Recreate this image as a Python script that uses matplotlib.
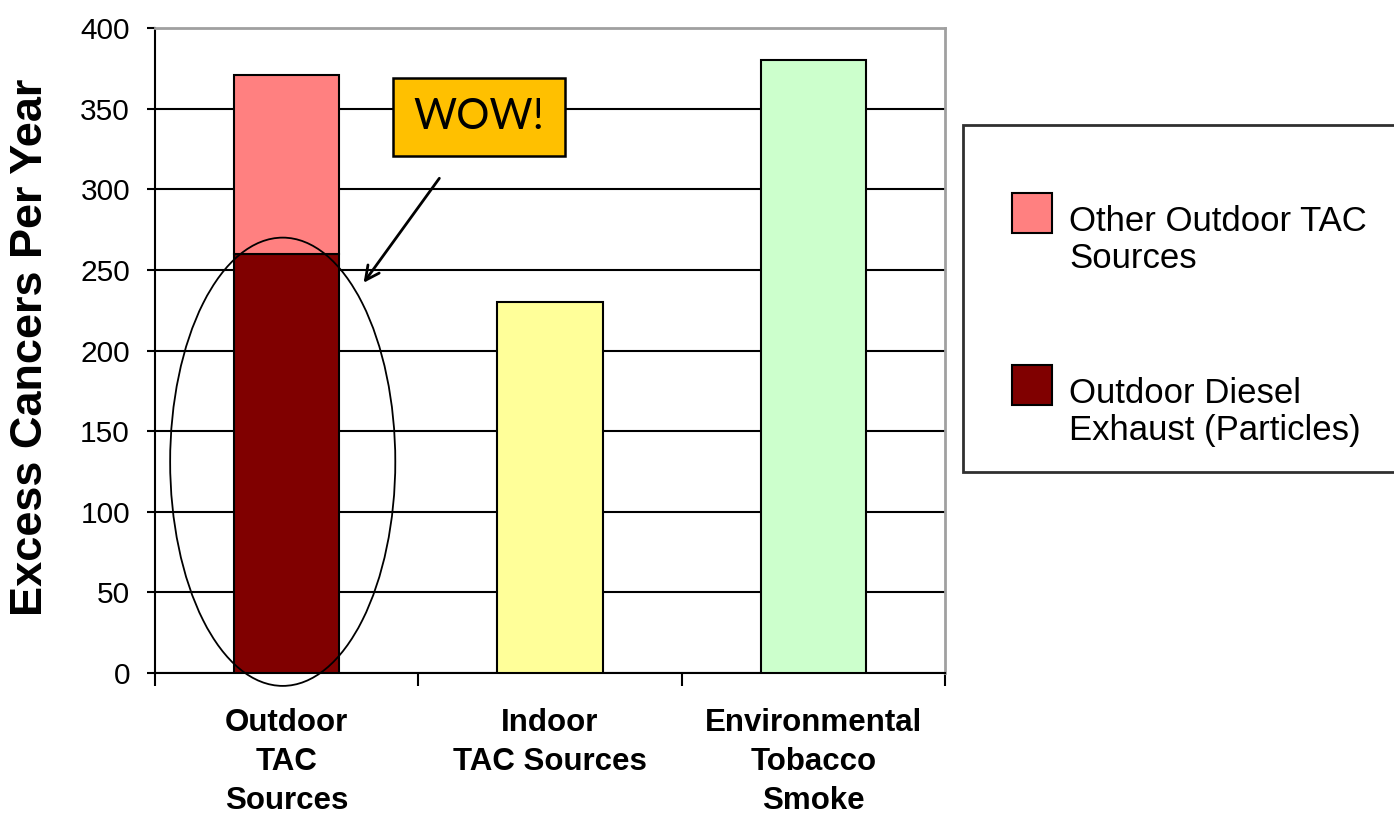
import matplotlib
matplotlib.use("Agg")
import matplotlib.pyplot as plt
from matplotlib.patches import Ellipse, Rectangle

plt.rcParams["font.family"] = ["Liberation Sans", "DejaVu Sans"]

# Excess cancers per year by source
categories = ["Outdoor\nTAC\nSources", "Indoor\nTAC Sources", "Environmental\nTobacco\nSmoke"]
diesel_exhaust = [260, 0, 0]      # Outdoor Diesel Exhaust (Particles)
other_outdoor = [111, 0, 0]       # Other Outdoor TAC Sources
indoor_sources = [0, 230, 0]
tobacco_smoke = [0, 0, 380]
y_ticks = [0, 50, 100, 150, 200, 250, 300, 350, 400]

legend_labels = ["Other Outdoor TAC\nSources", "Outdoor Diesel\nExhaust (Particles)"]

C_OTHER = "#FF8080"
C_DIESEL = "#800000"
C_INDOOR = "#FFFF99"
C_ETS = "#CCFFCC"

W, H = 1394, 815
fig = plt.figure(figsize=(W / 100, H / 100), dpi=100)
ax = fig.add_axes([155 / W, 1 - 673 / H, (945 - 155) / W, (673 - 28) / H])

x = list(range(len(categories)))
bw = 0.4
edge = dict(edgecolor="black", linewidth=1.5, zorder=3)
ax.bar(x, diesel_exhaust, bw, color=C_DIESEL, **edge)
ax.bar(x, other_outdoor, bw, bottom=diesel_exhaust, color=C_OTHER, **edge)
ax.bar(x[1], indoor_sources[1], bw, color=C_INDOOR, **edge)
ax.bar(x[2], tobacco_smoke[2], bw, color=C_ETS, **edge)

ax.set_xlim(-0.5, 2.5)
ax.set_ylim(0, 400)
ax.set_yticks(y_ticks)
ax.set_axisbelow(True)
ax.yaxis.grid(True, color="black", linewidth=1.5)
ax.tick_params(axis="y", direction="out", length=6, width=1.5, pad=12,
               labelsize=21.5, colors="black")
ax.set_xticks([-0.5, 0.5, 1.5, 2.5])
ax.set_xticklabels([])
ax.tick_params(axis="x", which="major", direction="out", length=9, width=1.5)
ax.set_xticks(x, minor=True)
ax.set_xticklabels(categories, minor=True, fontsize=22.5, fontweight="bold",
                   linespacing=1.4, va="top")
ax.tick_params(axis="x", which="minor", length=0, pad=25)

for s in ("left", "bottom"):
    ax.spines[s].set_color("black")
    ax.spines[s].set_linewidth(1.5)
for s in ("top", "right"):
    ax.spines[s].set_color("#A0A0A0")
    ax.spines[s].set_linewidth(2)

fig.text(31 / W, 1 - 347 / H, "Excess Cancers Per Year", rotation=90,
         ha="center", va="center", fontsize=32.5, fontweight="bold")

# Callout: ellipse around the diesel share, arrow and label box
ax.add_patch(Ellipse((-0.015, 131), 0.855, 278, fill=False, edgecolor="black",
                     linewidth=1.3, clip_on=False, zorder=5))
ax.annotate("", xy=(0.286, 240.6), xytext=(0.586, 308.2),
            arrowprops=dict(arrowstyle="->", color="black", lw=2,
                            mutation_scale=25), zorder=6)
ax.add_patch(Rectangle((0.4035, 320.6), 0.653, 48.4, facecolor="#FFC000",
                       edgecolor="black", linewidth=1.8, zorder=6, clip_on=False))
ax.text(0.730, 344.8, "WOW!", ha="center", va="center", fontsize=30,
        family=["Lato", "DejaVu Sans"], zorder=7)

# Legend box
def fx(px):
    return px / W

def fy(py):
    return 1 - py / H

fig.patches.append(Rectangle((fx(963), fy(472)), fx(1420) - fx(963), fy(125) - fy(472),
                             transform=fig.transFigure, facecolor="white",
                             edgecolor="#303030", linewidth=2, zorder=1))
for (sq_top, text_top), label, color in zip([(193, 205), (365, 377)],
                                             legend_labels, [C_OTHER, C_DIESEL]):
    fig.patches.append(Rectangle((fx(1012), fy(sq_top + 40)), fx(40), 40 / H,
                                 transform=fig.transFigure, facecolor=color,
                                 edgecolor="black", linewidth=1.5, zorder=2))
    fig.text(fx(1069), fy(text_top), label, ha="left", va="top", fontsize=25,
             linespacing=1.17, zorder=3)

fig.savefig("out.png", dpi=100)
